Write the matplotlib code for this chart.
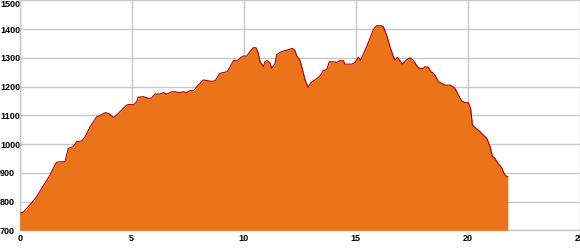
import numpy as np
from matplotlib import pyplot as plt

# elevation profile (distance in km, elevation in m)
dist_km = [0.00, 0.16, 0.38, 0.54, 0.76, 0.98, 1.21, 1.35, 1.50, 1.65,
           1.95, 2.02, 2.17, 2.39, 2.54, 2.77, 2.92, 3.14, 3.44, 3.58,
           3.81, 3.96, 4.18, 4.25, 4.55, 4.78, 4.92, 5.07, 5.22, 5.29,
           5.52, 5.74, 5.89, 6.04, 6.26, 6.41, 6.56, 6.79, 6.93, 7.16,
           7.30, 7.46, 7.60, 7.75, 7.97, 8.20, 8.42, 8.57, 8.72, 8.94,
           9.17, 9.27, 9.39, 9.54, 9.71, 9.83, 9.98, 10.13, 10.28, 10.43,
           10.55, 10.65, 10.73, 10.88, 10.95, 11.05, 11.17, 11.25, 11.40, 11.47,
           11.62, 11.84, 12.07, 12.17, 12.29, 12.37, 12.51, 12.59, 12.74, 12.88,
           12.99, 13.18, 13.41, 13.55, 13.71, 13.82, 14.08, 14.15, 14.27, 14.45,
           14.52, 14.82, 14.97, 15.12, 15.22, 15.34, 15.49, 15.64, 15.79, 15.94,
           16.16, 16.23, 16.38, 16.53, 16.68, 16.75, 16.86, 16.95, 17.10, 17.25,
           17.42, 17.57, 17.75, 17.87, 18.02, 18.09, 18.24, 18.35, 18.44, 18.54,
           18.69, 18.84, 18.99, 19.21, 19.29, 19.43, 19.58, 19.73, 19.88, 20.03,
           20.13, 20.21, 20.33, 20.55, 20.70, 20.85, 21.00, 21.10, 21.22, 21.37,
           21.52, 21.62, 21.71, 21.79]
elev_m = [759, 763, 782, 796, 817, 846, 875, 892, 916, 937,
          939, 939, 985, 991, 1008, 1011, 1026, 1060, 1095, 1099,
          1109, 1107, 1093, 1095, 1118, 1136, 1138, 1136, 1147, 1163,
          1165, 1159, 1160, 1174, 1174, 1179, 1174, 1182, 1182, 1179,
          1182, 1179, 1186, 1185, 1205, 1223, 1220, 1218, 1220, 1246,
          1250, 1252, 1269, 1290, 1290, 1298, 1306, 1306, 1321, 1335,
          1335, 1316, 1287, 1269, 1287, 1290, 1283, 1263, 1281, 1310,
          1319, 1325, 1330, 1333, 1325, 1306, 1292, 1269, 1223, 1197,
          1213, 1223, 1237, 1255, 1260, 1286, 1286, 1283, 1290, 1290,
          1278, 1278, 1283, 1302, 1292, 1313, 1339, 1368, 1399, 1412,
          1411, 1408, 1379, 1339, 1304, 1292, 1302, 1292, 1278, 1292,
          1300, 1292, 1269, 1263, 1263, 1269, 1267, 1252, 1248, 1240,
          1217, 1211, 1205, 1205, 1202, 1194, 1171, 1150, 1144, 1144,
          1124, 1066, 1058, 1043, 1031, 1020, 991, 958, 950, 931,
          918, 898, 889, 886]

x_ticks = [0, 5, 10, 15, 20, 25]
y_ticks = [700, 800, 900, 1000, 1100, 1200, 1300, 1400, 1500]

FILL = '#eb7319'
EDGE = '#a80000'
GRID = '#c8c8c8'


def main():
    fig = plt.figure(figsize=(5.8, 2.5), dpi=100)
    ax = fig.add_axes([0.034, 0.0788, 0.9655, 0.92])

    x = np.array(dist_km)
    y = np.array(elev_m)
    ax.fill_between(x, y, y_ticks[0], color=FILL, linewidth=0, zorder=2)
    ax.plot(x, y, color=EDGE, linewidth=0.8, zorder=3)

    ax.set_xlim(x_ticks[0], x_ticks[-1])
    ax.set_ylim(y_ticks[0], y_ticks[-1])
    ax.set_xticks(x_ticks)
    ax.set_yticks(y_ticks)
    ax.grid(True, color=GRID, linewidth=1.0, zorder=0)
    ax.set_axisbelow(True)

    for side in ['top', 'right']:
        ax.spines[side].set_visible(False)
    for side in ['left', 'bottom']:
        ax.spines[side].set_color(GRID)
        ax.spines[side].set_linewidth(1.0)
        ax.spines[side].set_zorder(1)

    font = dict(family=['DejaVu Sans Condensed', 'Liberation Sans'],
                weight='bold', size=6.5)
    ax.tick_params(axis='both', length=0, colors='black')
    ax.tick_params(axis='y', pad=14.2)
    ax.tick_params(axis='x', pad=3)
    ax.set_xticklabels([str(t) for t in x_ticks], **font)
    ax.set_yticklabels([str(t) for t in y_ticks], **font)
    for lab in ax.get_yticklabels():
        lab.set_horizontalalignment('left')
    ax.get_yticklabels()[-1].set_verticalalignment('top')

    fig.savefig('out.png', dpi=100)


main()
